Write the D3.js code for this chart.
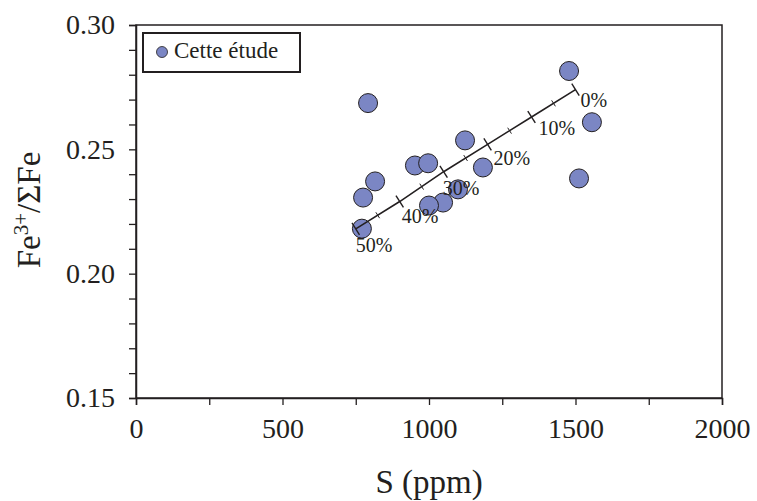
<!DOCTYPE html>
<html><head><meta charset="utf-8">
<script src="https://cdn.jsdelivr.net/npm/d3@7"></script>
<style>
html,body{margin:0;padding:0;background:#fff;}
svg{display:block;font-family:"Liberation Serif","Times New Roman",serif;}
</style></head>
<body>
<svg id="chart" width="757" height="501"></svg>
<script>
// ---- data ----
const sPpm   = [1099, 1048, 1000, 1478, 792, 1556, 1123, 952, 997, 1184, 1512, 816, 775, 771];
const feRatio= [0.2339, 0.2286, 0.2274, 0.2815, 0.2686, 0.2609, 0.2536, 0.2435, 0.2444, 0.2427, 0.2383, 0.2371, 0.2306, 0.2181];
const mixPct = ["0%", "10%", "20%", "30%", "40%", "50%"];
const mixS   = [1500, 1350, 1200, 1050, 900, 750];
const mixFe  = [0.274, 0.263, 0.252, 0.241, 0.229, 0.218];
const xTickVals = [0, 500, 1000, 1500, 2000];
const yTickVals = [0.15, 0.20, 0.25, 0.30];
const legendLabel = "Cette étude";

// ---- layout ----
const svg = d3.select("#chart");
const L = 136, R = 722, T = 25, B = 398;
const x = d3.scaleLinear().domain([0, 2000]).range([L, R]);
const y = d3.scaleLinear().domain([0.15, 0.30]).range([B, T]);
const ink = "#231f20";
const fill = "#7b86c4";

// frame (top & right plain)
svg.append("rect").attr("x", L).attr("y", T).attr("width", R - L).attr("height", B - T)
  .attr("fill", "none").attr("stroke", ink).attr("stroke-width", 1.5);

// x axis
const xAxis = d3.axisBottom(x).tickValues(d3.range(0, 2001, 250)).tickSize(7)
  .tickFormat(d => xTickVals.includes(d) ? d3.format("d")(d) : "");
const gx = svg.append("g").attr("transform", `translate(0,${B})`).call(xAxis);
gx.select(".domain").attr("stroke", ink).attr("stroke-width", 1.5);
gx.selectAll(".tick line").attr("stroke", ink).attr("stroke-width", 1.3);
gx.selectAll(".tick text").attr("fill", ink).attr("font-size", 28)
  .attr("font-family", "Liberation Serif").attr("y", 0).attr("dy", 0)
  .attr("transform", "translate(0,40)");

// y axis
const yAxis = d3.axisLeft(y).tickValues(d3.range(0, 16).map(i => 0.15 + i * 0.01)).tickSize(7)
  .tickFormat(d => yTickVals.some(v => Math.abs(v - d) < 1e-9) ? d3.format(".2f")(d) : "");
const gy = svg.append("g").attr("transform", `translate(${L},0)`).call(yAxis);
gy.select(".domain").attr("stroke", ink).attr("stroke-width", 1.5);
gy.selectAll(".tick line").attr("stroke", ink).attr("stroke-width", 1.3);
gy.selectAll(".tick text").attr("fill", ink).attr("font-size", 28)
  .attr("font-family", "Liberation Serif").attr("x", -21).attr("dy", "0.32em");

// axis titles
svg.append("text").attr("x", (L + R) / 2).attr("y", 493).attr("text-anchor", "middle")
  .attr("font-size", 33).attr("fill", ink).text("S (ppm)");
const yl = svg.append("text").attr("transform", "translate(40,210) rotate(-90)")
  .attr("text-anchor", "middle").attr("font-size", 33).attr("fill", ink);
yl.append("tspan").text("Fe");
yl.append("tspan").attr("baseline-shift", "super").attr("font-size", 21).text("3+");
yl.append("tspan").text("/ΣFe");

// points
const pts = sPpm.map((s, i) => ({s, f: feRatio[i]}));
svg.append("g").selectAll("circle").data(pts).join("circle")
  .attr("cx", d => x(d.s)).attr("cy", d => y(d.f)).attr("r", 9.5)
  .attr("fill", fill).attr("stroke", ink).attr("stroke-width", 1);

// mixing line
const mix = mixS.map((s, i) => ({s, f: mixFe[i], lab: mixPct[i]}));
const line = d3.line().x(d => x(d.s)).y(d => y(d.f));
svg.append("path").datum(mix).attr("d", line).attr("fill", "none")
  .attr("stroke", ink).attr("stroke-width", 1.6);
const p0 = mix[0], p1 = mix[mix.length - 1];
const dxl = x(p1.s) - x(p0.s), dyl = y(p1.f) - y(p0.f);
const len = Math.hypot(dxl, dyl);
const nx = -dyl / len, ny = dxl / len; // perpendicular
const tickG = svg.append("g").attr("stroke", ink).attr("stroke-width", 1.4);
mix.forEach((d, i) => {
  const cx = x(d.s), cy = y(d.f);
  tickG.append("line").attr("x1", cx - nx * 7).attr("y1", cy - ny * 7)
    .attr("x2", cx + nx * 7).attr("y2", cy + ny * 7);
  if (i < mix.length - 1) {
    const mx = (cx + x(mix[i + 1].s)) / 2, my = (cy + y(mix[i + 1].f)) / 2;
    tickG.append("line").attr("x1", mx - nx * 3.5).attr("y1", my - ny * 3.5)
      .attr("x2", mx + nx * 3.5).attr("y2", my + ny * 3.5).attr("stroke-width", 1);
  }
});
const labOff = [[5, 17], [7, 18], [6, 21], [-1, 23], [2, 21], [0, 23]];
svg.append("g").selectAll("text").data(mix).join("text")
  .attr("x", (d, i) => x(d.s) + labOff[i][0]).attr("y", (d, i) => y(d.f) + labOff[i][1])
  .attr("font-size", 20).attr("fill", ink).text(d => d.lab);

// legend
const lg = svg.append("g");
lg.append("rect").attr("x", 143).attr("y", 33).attr("width", 157).attr("height", 39)
  .attr("fill", "#fff").attr("stroke", ink).attr("stroke-width", 2);
lg.append("circle").attr("cx", 162).attr("cy", 52).attr("r", 5.5)
  .attr("fill", fill).attr("stroke", ink).attr("stroke-width", 0.8);
lg.append("text").attr("x", 174).attr("y", 58).attr("font-size", 23).attr("fill", ink).text(legendLabel);
</script>
</body></html>
